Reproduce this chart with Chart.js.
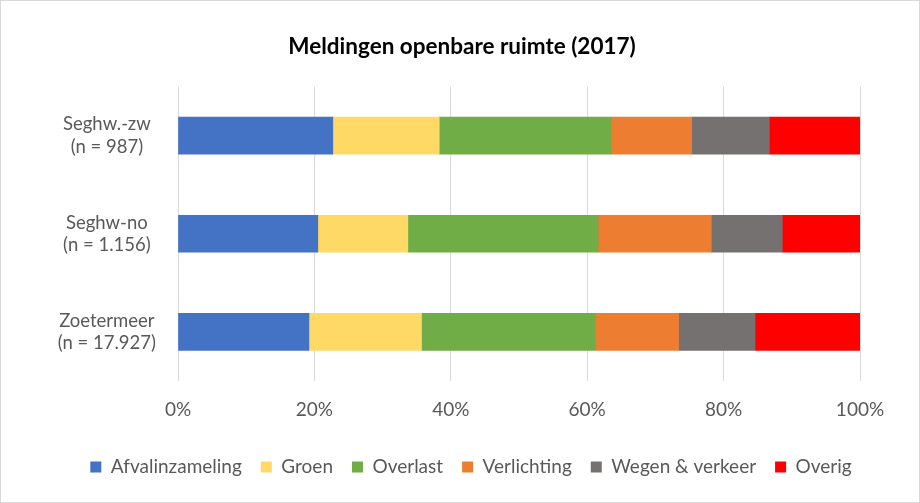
<!DOCTYPE html>
<html><head><meta charset="utf-8">
<script src="https://cdn.jsdelivr.net/npm/chart.js@4/dist/chart.umd.min.js"></script>
<style>
html,body{margin:0;padding:0;background:#fff;}
canvas{display:block;}
</style></head><body>
<canvas id="c" width="920" height="503"></canvas>
<script>
const categories = [["Seghw.-zw","(n = 987)"],["Seghw-no","(n = 1.156)"],["Zoetermeer","(n = 17.927)"]];
const seriesNames = ["Afvalinzameling","Groen","Overlast","Verlichting","Wegen & verkeer","Overig"];
const afvalinzameling = [22.7, 20.5, 19.2];
const groen = [15.6, 13.2, 16.5];
const overlast = [25.2, 27.9, 25.5];
const verlichting = [11.8, 16.6, 12.2];
const wegenVerkeer = [11.4, 10.4, 11.2];
const overig = [13.3, 11.4, 15.4];
const colors = ["#4472c4","#ffd966","#70ad47","#ed7d31","#767171","#ff0000"];
const seriesData = [afvalinzameling, groen, overlast, verlichting, wegenVerkeer, overig];

const FONT = "Lato";
const borderPlugin = {
  id: 'frame',
  beforeDraw(chart) {
    const ctx = chart.ctx;
    ctx.save();
    ctx.fillStyle = '#fff';
    ctx.fillRect(0, 0, chart.width, chart.height);
    ctx.strokeStyle = '#d9d9d9';
    ctx.lineWidth = 1;
    ctx.strokeRect(0.5, 0.5, chart.width - 1, chart.height - 1);
    ctx.restore();
  }
};
const shiftPlugin = {
  id: 'shift',
  afterLayout(chart) {
    if (chart.legend) { chart.legend.left += 13; chart.legend.right += 13; }
    if (chart.titleBlock) { chart.titleBlock.left += 4; chart.titleBlock.right += 4; }
  }
};
new Chart(document.getElementById('c'), {
  type: 'bar',
  data: {
    labels: categories,
    datasets: seriesNames.map((n,i)=>({label:n, data:seriesData[i], backgroundColor:colors[i], borderWidth:0, barThickness:37}))
  },
  options: {
    indexAxis: 'y',
    responsive: false,
    animation: false,
    layout: {padding: {left: 56, right: 60, top: 20, bottom: 16.5}},
    plugins: {
      title: {display:true, text:'Meldingen openbare ruimte (2017)', color:'#000', font:{family:FONT, size:22.5, weight:'bold'}, padding:{top:13.5, bottom:26}},
      legend: {position:'bottom', labels:{color:'#595959', font:{family:FONT, size:19}, boxWidth:11, boxHeight:11, padding:19}},
      tooltip: {enabled:false}
    },
    scales: {
      x: {stacked:true, min:0, max:100,
        ticks:{stepSize:20, callback:v=>v+'%', color:'#595959', font:{family:FONT, size:19}, padding:17},
        grid:{color:'#d9d9d9', drawTicks:false}, border:{display:false},
        afterFit: s => { s.height = 57.5; }},
      y: {stacked:true,
        ticks:{color:'#595959', font:{family:FONT, size:18.5}, crossAlign:'center', padding:14},
        grid:{display:false}, border:{display:false},
        afterFit: s => { s.width = 122; }}
    }
  },
  plugins: [borderPlugin, shiftPlugin]
});
</script></body></html>
